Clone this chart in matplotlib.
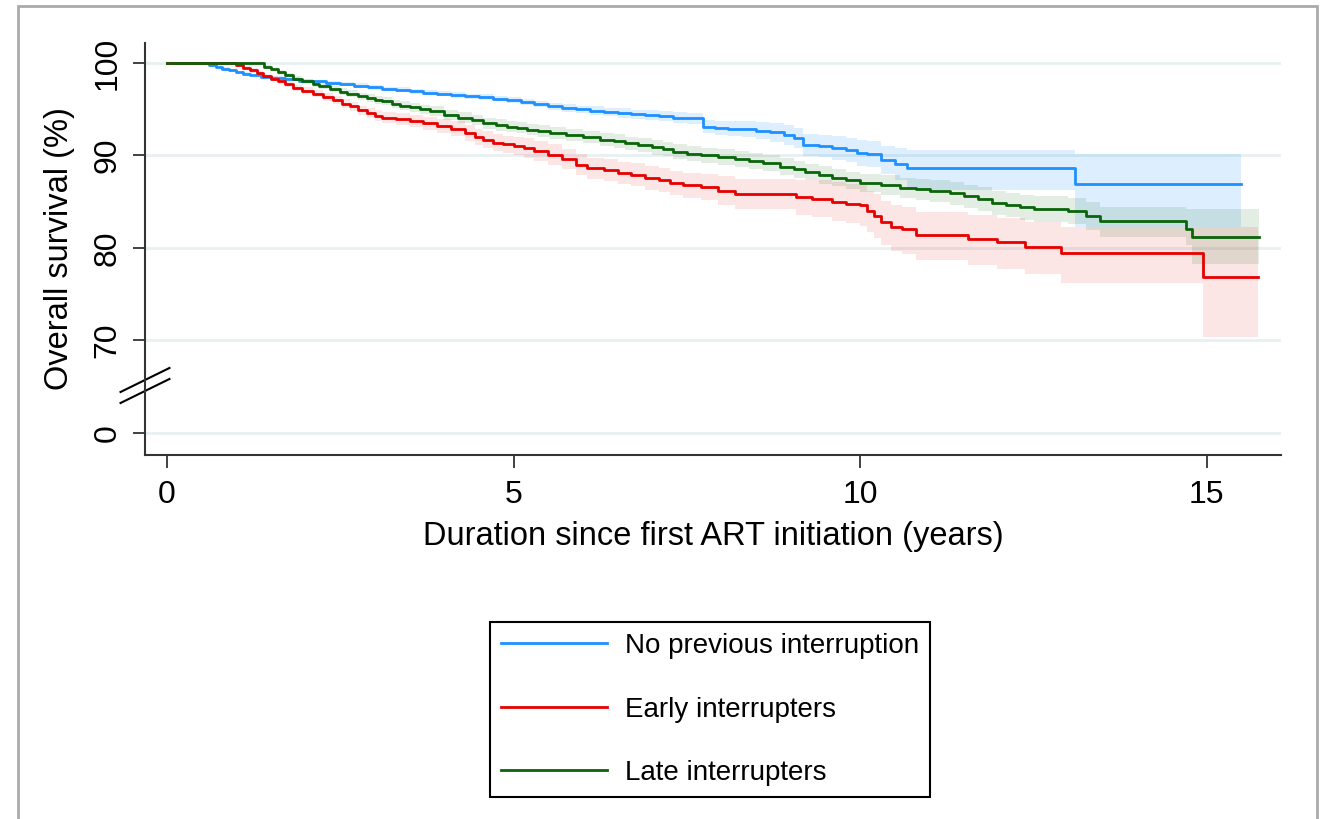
import matplotlib.pyplot as plt
from matplotlib.patches import Rectangle

plt.rcParams['font.family'] = ['Liberation Sans', 'DejaVu Sans']

# Kaplan-Meier estimates (years, survival %, 95% CI)
t_none = [0, 0.5, 0.6, 0.7, 0.8, 0.9, 1.0, 1.1, 1.2, 1.35,
          1.5, 1.7, 1.9, 2.1, 2.3, 2.5, 2.7, 2.9, 3.1, 3.3,
          3.5, 3.7, 3.9, 4.1, 4.3, 4.5, 4.7, 4.9, 5.1, 5.3,
          5.5, 5.7, 5.9, 6.1, 6.3, 6.5, 6.7, 6.9, 7.1, 7.3,
          7.5, 7.73, 7.9, 8.1, 8.3, 8.5, 8.7, 8.9, 9.05, 9.17,
          9.4, 9.6, 9.8, 9.95, 10.1, 10.3, 10.5, 10.67, 13.1, 15.5]
s_none = [100, 100, 99.8, 99.6, 99.4, 99.2, 99.0, 98.85, 98.7, 98.5,
          98.4, 98.25, 98.1, 98.0, 97.85, 97.7, 97.55, 97.35, 97.2, 97.1,
          96.95, 96.8, 96.7, 96.55, 96.4, 96.3, 96.15, 96.0, 95.8, 95.55,
          95.3, 95.15, 95.0, 94.85, 94.7, 94.6, 94.45, 94.35, 94.25, 94.1,
          94.0, 93.1, 93.0, 92.9, 92.85, 92.7, 92.5, 92.2, 91.9, 91.1,
          91.0, 90.8, 90.6, 90.3, 90.2, 89.5, 89.1, 88.6, 86.9, 86.9]
hi_none = [100, 100, 99.9, 99.75, 99.55, 99.35, 99.15, 99.0, 98.85, 98.7,
           98.6, 98.45, 98.3, 98.2, 98.05, 97.9, 97.8, 97.6, 97.45, 97.35,
           97.2, 97.1, 97.0, 96.85, 96.7, 96.6, 96.45, 96.35, 96.15, 95.9,
           95.7, 95.55, 95.4, 95.3, 95.15, 95.1, 94.95, 94.9, 94.8, 94.7,
           94.6, 93.8, 93.75, 93.7, 93.7, 93.6, 93.5, 93.3, 93.0, 92.3,
           92.2, 92.1, 91.9, 91.7, 91.6, 91.0, 90.8, 90.6, 90.2, 90.2]
lo_none = [100, 100, 99.7, 99.45, 99.25, 99.05, 98.85, 98.7, 98.55, 98.3,
           98.2, 98.05, 97.9, 97.8, 97.65, 97.5, 97.3, 97.1, 96.95, 96.85,
           96.7, 96.5, 96.4, 96.25, 96.1, 96.0, 95.85, 95.65, 95.45, 95.2,
           94.9, 94.75, 94.6, 94.4, 94.25, 94.1, 93.95, 93.8, 93.7, 93.5,
           93.4, 92.4, 92.25, 92.1, 92.0, 91.8, 91.5, 91.1, 90.8, 89.9,
           89.8, 89.5, 89.3, 88.9, 88.8, 88.0, 87.4, 86.3, 82.3, 82.3]

t_early = [0, 0.9, 1.0, 1.1, 1.2, 1.3, 1.39, 1.5, 1.6, 1.7,
           1.82, 1.95, 2.1, 2.25, 2.4, 2.52, 2.64, 2.76, 2.88, 3.0,
           3.1, 3.3, 3.5, 3.7, 3.9, 4.1, 4.3, 4.45, 4.56, 4.7,
           4.85, 5.0, 5.15, 5.3, 5.5, 5.7, 5.9, 6.06, 6.3, 6.5,
           6.7, 6.9, 7.1, 7.25, 7.45, 7.7, 7.95, 8.2, 9.08, 9.3,
           9.6, 9.8, 10.0, 10.1, 10.2, 10.3, 10.45, 10.6, 10.8, 11.56,
           11.97, 12.37, 12.9, 14.95, 15.74]
s_early = [100, 100, 99.8, 99.5, 99.2, 98.9, 98.6, 98.3, 98.0, 97.7,
           97.3, 97.0, 96.7, 96.3, 96.0, 95.6, 95.3, 94.9, 94.6, 94.3,
           94.1, 93.9, 93.7, 93.5, 93.2, 92.9, 92.4, 92.0, 91.7, 91.4,
           91.2, 91.0, 90.8, 90.5, 90.1, 89.6, 89.0, 88.6, 88.4, 88.1,
           87.9, 87.6, 87.3, 87.0, 86.8, 86.6, 86.2, 85.8, 85.5, 85.3,
           85.0, 84.8, 84.6, 84.0, 83.5, 82.8, 82.3, 82.0, 81.4, 81.0,
           80.6, 80.1, 79.5, 76.9, 76.9]
hi_early = [100, 100, 99.95, 99.7, 99.45, 99.15, 98.85, 98.6, 98.3, 98.05,
            97.65, 97.4, 97.1, 96.75, 96.45, 96.1, 95.8, 95.4, 95.15, 94.9,
            94.7, 94.55, 94.35, 94.2, 93.95, 93.7, 93.25, 92.85, 92.6, 92.35,
            92.15, 92.0, 91.85, 91.55, 91.2, 90.7, 90.15, 89.75, 89.6, 89.3,
            89.15, 88.9, 88.6, 88.3, 88.15, 88.0, 87.75, 87.5, 87.4, 87.3,
            87.1, 86.95, 86.8, 86.2, 85.8, 85.1, 84.7, 84.45, 83.9, 83.55,
            83.2, 82.8, 82.3, 82.3, 82.3]
lo_early = [100, 100, 99.65, 99.3, 98.95, 98.65, 98.35, 98.0, 97.7, 97.35,
            96.95, 96.6, 96.3, 95.85, 95.55, 95.1, 94.8, 94.4, 94.05, 93.7,
            93.5, 93.25, 93.05, 92.8, 92.45, 92.1, 91.55, 91.1, 90.8, 90.45,
            90.25, 90.0, 89.75, 89.45, 89.0, 88.5, 87.85, 87.45, 87.2, 86.9,
            86.65, 86.3, 86.0, 85.7, 85.45, 85.2, 84.7, 84.2, 83.6, 83.35,
            82.9, 82.7, 82.4, 81.7, 81.1, 80.3, 79.7, 79.3, 78.7, 78.2,
            77.7, 77.2, 76.2, 70.4, 70.4]

t_late = [0, 1.31, 1.4, 1.5, 1.6, 1.7, 1.82, 1.95, 2.1, 2.2,
          2.35, 2.5, 2.6, 2.75, 2.88, 3.0, 3.1, 3.25, 3.36, 3.5,
          3.65, 3.8, 4.0, 4.2, 4.4, 4.56, 4.75, 4.9, 5.05, 5.2,
          5.35, 5.53, 5.75, 6.0, 6.25, 6.45, 6.6, 6.8, 7.0, 7.15,
          7.3, 7.5, 7.7, 7.95, 8.2, 8.4, 8.6, 8.85, 9.05, 9.2,
          9.4, 9.6, 9.8, 10.0, 10.3, 10.57, 10.8, 11.0, 11.3, 11.5,
          11.7, 11.9, 12.1, 12.3, 12.5, 13.0, 13.25, 13.46, 14.7, 14.78,
          15.75]
s_late = [100, 100, 99.6, 99.3, 99.0, 98.7, 98.3, 98.0, 97.7, 97.5,
          97.2, 96.9, 96.7, 96.4, 96.2, 96.0, 95.9, 95.6, 95.4, 95.2,
          95.0, 94.8, 94.4, 94.1, 93.8, 93.5, 93.3, 93.1, 93.0, 92.8,
          92.6, 92.4, 92.2, 92.0, 91.7, 91.6, 91.3, 91.1, 90.9, 90.7,
          90.4, 90.2, 90.0, 89.8, 89.6, 89.4, 89.2, 88.8, 88.5, 88.2,
          87.9, 87.6, 87.3, 87.0, 86.8, 86.5, 86.35, 86.2, 85.9, 85.6,
          85.3, 84.9, 84.6, 84.4, 84.2, 84.0, 83.5, 82.9, 82.1, 81.2,
          81.2]
hi_late = [100, 100, 99.75, 99.5, 99.25, 98.95, 98.6, 98.3, 98.0, 97.8,
           97.55, 97.25, 97.05, 96.8, 96.6, 96.45, 96.35, 96.05, 95.85, 95.7,
           95.5, 95.3, 94.95, 94.65, 94.35, 94.1, 93.9, 93.7, 93.6, 93.4,
           93.25, 93.05, 92.85, 92.7, 92.4, 92.3, 92.05, 91.85, 91.7, 91.5,
           91.2, 91.0, 90.85, 90.65, 90.45, 90.25, 90.1, 89.7, 89.4, 89.1,
           88.85, 88.55, 88.25, 88.0, 87.85, 87.6, 87.5, 87.4, 87.1, 86.85,
           86.55, 86.2, 85.9, 85.75, 85.6, 85.4, 84.95, 84.4, 84.2, 84.2,
           84.2]
lo_late = [100, 100, 99.45, 99.1, 98.75, 98.45, 98.0, 97.7, 97.4, 97.2,
           96.85, 96.55, 96.35, 96.0, 95.8, 95.55, 95.45, 95.15, 94.95, 94.7,
           94.5, 94.3, 93.85, 93.55, 93.25, 92.9, 92.7, 92.5, 92.4, 92.2,
           91.95, 91.75, 91.55, 91.3, 91.0, 90.85, 90.55, 90.35, 90.1, 89.9,
           89.6, 89.4, 89.15, 88.95, 88.75, 88.55, 88.3, 87.9, 87.6, 87.3,
           86.95, 86.65, 86.35, 86.0, 85.75, 85.4, 85.2, 85.0, 84.7, 84.35,
           84.0, 83.6, 83.3, 83.05, 82.8, 82.55, 81.95, 81.2, 80.3, 78.3,
           78.3]

labels = ['No previous interruption', 'Early interrupters', 'Late interrupters']
colors = ['#1e90ff', '#e60000', '#0a640a']
alphas = [0.15, 0.10, 0.11]

# y axis is broken: the "0" tick sits where 60 would be
ytick_pos = [60, 70, 80, 90, 100]
ytick_lab = ['0', '70', '80', '90', '100']
xticks = [0, 5, 10, 15]

fig = plt.figure(figsize=(13.27, 8.19), dpi=100)
ax = fig.add_axes([145/1327, 1-455/819, (1281-145)/1327, (455-43)/819])

series = [(t_none, s_none, lo_none, hi_none),
          (t_early, s_early, lo_early, hi_early),
          (t_late, s_late, lo_late, hi_late)]

for (t, s, lo, hi), c, a in zip(series, colors, alphas):
    ax.fill_between(t, lo, hi, step='post', color=c, alpha=a, linewidth=0)
for (t, s, lo, hi), c, lab in zip(series, colors, labels):
    ax.step(t, s, where='post', color=c, lw=2.0, label=lab)

for y in ytick_pos:
    ax.axhline(y, color='#e8f0f1', lw=2, zorder=0)

ax.set_xlim(-0.317, 16.07)
ax.set_ylim(57.62, 102.16)
ax.set_xticks(xticks)
ax.set_yticks(ytick_pos)
ax.set_yticklabels(ytick_lab, rotation=90, va='center')
ax.tick_params(axis='both', labelsize=23, length=9, width=1.3, color='#333333', pad=9)
ax.tick_params(axis='y', pad=7)

for side in ['top', 'right']:
    ax.spines[side].set_visible(False)
for side in ['left', 'bottom']:
    ax.spines[side].set_color('#333333')
    ax.spines[side].set_linewidth(1.5)

# axis break marks
x0 = -0.317
for yc in [65.73, 64.54]:
    ax.plot([x0 - 0.353, x0 + 0.353], [yc - 1.3, yc + 1.3], color='black', lw=1.5, clip_on=False)

ax.set_xlabel('Duration since first ART initiation (years)', fontsize=23.5, labelpad=8)
ax.set_ylabel('Overall survival (%)', fontsize=23.5, labelpad=13)

leg = fig.legend(loc='upper center', bbox_to_anchor=(710/1327, 1-622/819), fontsize=20,
                 frameon=True, fancybox=False, edgecolor='black', framealpha=1,
                 handlelength=3.8, handletextpad=0.65, labelspacing=1.35, borderpad=0.4,
                 borderaxespad=0)
leg.get_frame().set_linewidth(1.5)

# outer grey frame
fig.patches.append(Rectangle((18/1327, -0.02), (1317-18)/1327, 1.02 - 6/819,
                             transform=fig.transFigure, fill=False, edgecolor='#aaaaaa', lw=2))

fig.savefig('out.png', dpi=100)
